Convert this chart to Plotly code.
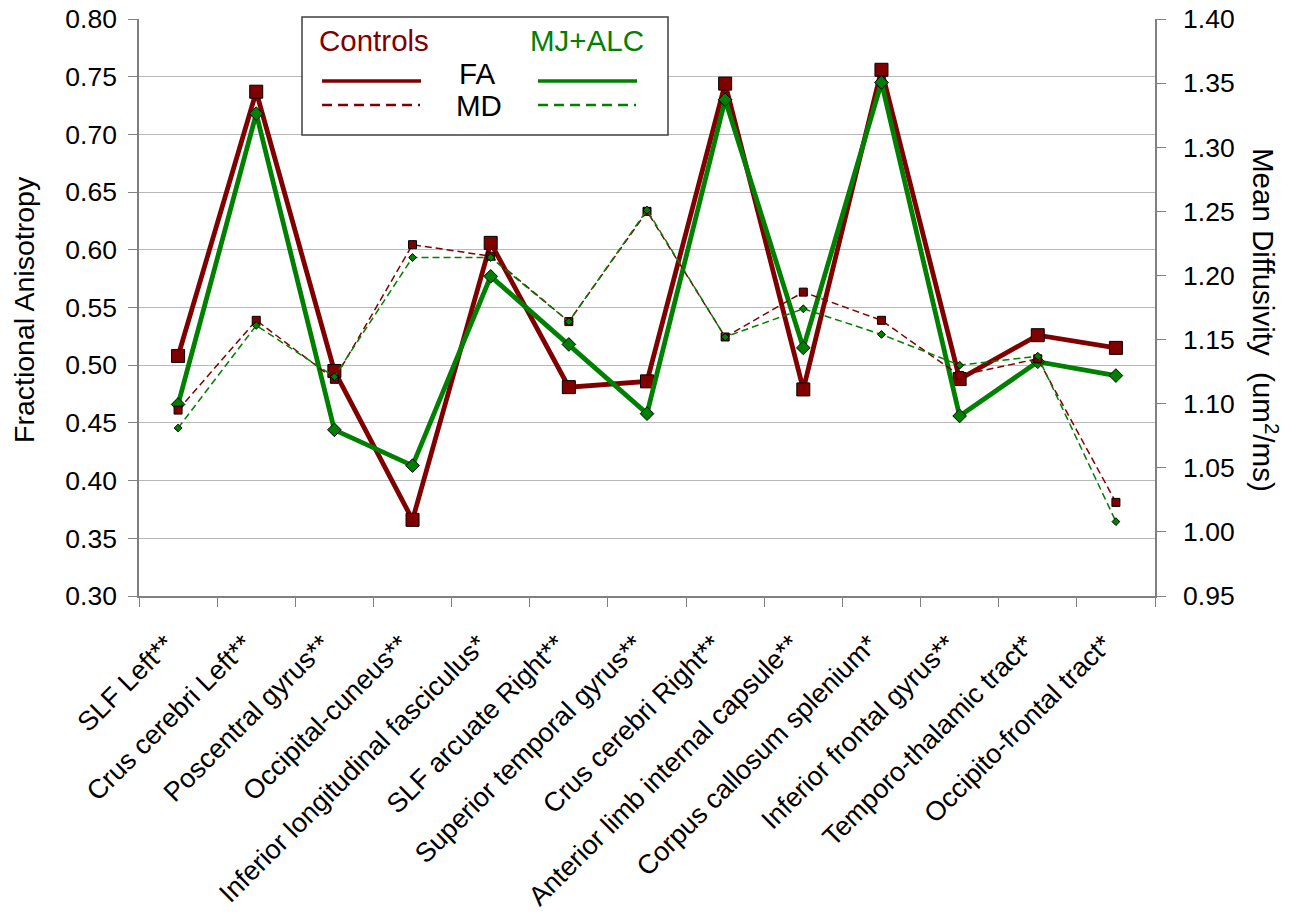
import plotly.graph_objects as go

categories = ["SLF Left**", "Crus cerebri Left**", "Poscentral gyrus**", "Occipital-cuneus**",
              "Inferior longitudinal fasciculus*", "SLF arcuate Right**", "Superior temporal gyrus**",
              "Crus cerebri Right**", "Anterior limb internal capsule**", "Corpus callosum splenium*",
              "Inferior frontal gyrus**", "Temporo-thalamic tract*", "Occipito-frontal tract*"]

controls_fa = [0.508, 0.737, 0.495, 0.366, 0.606, 0.481, 0.486, 0.744, 0.479, 0.756, 0.488, 0.526, 0.515]
mjalc_fa = [0.466, 0.718, 0.444, 0.413, 0.577, 0.518, 0.458, 0.730, 0.515, 0.745, 0.456, 0.503, 0.491]
controls_md = [1.095, 1.165, 1.119, 1.224, 1.215, 1.164, 1.250, 1.152, 1.187, 1.165, 1.122, 1.135, 1.023]
mjalc_md = [1.081, 1.161, 1.121, 1.214, 1.214, 1.164, 1.251, 1.152, 1.174, 1.154, 1.130, 1.137, 1.008]

fa_ticks = [0.30, 0.35, 0.40, 0.45, 0.50, 0.55, 0.60, 0.65, 0.70, 0.75, 0.80]
md_ticks = [0.95, 1.00, 1.05, 1.10, 1.15, 1.20, 1.25, 1.30, 1.35, 1.40]

RED = "#800000"
GREEN = "#008000"
FONT = "Liberation Sans, Arial, sans-serif"

OFF = 8  # page body margin
W, H = 1297 - OFF, 918 - OFF
# plot area in screen pixels
L, R, T, B = 139, 1155, 19, 596


def px(x):
    return (x - L) / (R - L)


def py(y):
    return (B - y) / (B - T)


fig = go.Figure()
fig.add_trace(go.Scatter(x=categories, y=controls_fa, mode="lines+markers", name="Controls FA",
                         line=dict(color=RED, width=4.8),
                         marker=dict(symbol="square", size=13, color=RED, line=dict(color="black", width=1))))
fig.add_trace(go.Scatter(x=categories, y=mjalc_fa, mode="lines+markers", name="MJ+ALC FA",
                         line=dict(color=GREEN, width=4.8),
                         marker=dict(symbol="diamond", size=10.5, color=GREEN, line=dict(color="black", width=1))))
fig.add_trace(go.Scatter(x=categories, y=controls_md, mode="lines+markers", name="Controls MD", yaxis="y2",
                         line=dict(color=RED, width=1.5, dash="7px,4px"),
                         marker=dict(symbol="square", size=8, color=RED, line=dict(color="black", width=1))))
fig.add_trace(go.Scatter(x=categories, y=mjalc_md, mode="lines+markers", name="MJ+ALC MD", yaxis="y2",
                         line=dict(color=GREEN, width=1.5, dash="7px,4px"),
                         marker=dict(symbol="diamond", size=6, color=GREEN, line=dict(color="black", width=1))))

axis_col = "#808080"
fig.update_layout(
    width=W, height=H,
    margin=dict(l=L - OFF, r=W - (R - OFF), t=T - OFF, b=H - (B - OFF), autoexpand=False),
    paper_bgcolor="white", plot_bgcolor="white",
    showlegend=False,
    font=dict(family=FONT, color="black"),
    xaxis=dict(type="category", range=[-0.5, len(categories) - 0.5], showgrid=False, zeroline=False,
               showline=True, linecolor=axis_col, linewidth=1.5,
               ticks="outside", tickson="boundaries", ticklen=9, tickcolor=axis_col, tickwidth=1,
               tickangle=-45, ticklabelstandoff=20, ticklabelshift=-12,
               tickfont=dict(size=27, family=FONT, color="black")),
    yaxis=dict(range=[0.30, 0.80], tickmode="array", tickvals=fa_ticks,
               ticktext=["%.2f" % v for v in fa_ticks], ticklabeloverflow="allow",
               showgrid=True, gridcolor="#b8b8b8", gridwidth=1, zeroline=False,
               showline=True, linecolor=axis_col, linewidth=1.5,
               ticks="outside", ticklen=9, tickcolor=axis_col, tickwidth=1,
               ticklabelstandoff=6,
               tickfont=dict(size=26.5, family=FONT, color="black")),
    yaxis2=dict(range=[0.95, 1.40], overlaying="y", side="right", tickmode="array", tickvals=md_ticks,
                ticktext=["%.2f" % v for v in md_ticks], ticklabeloverflow="allow",
                showgrid=False, zeroline=False,
                showline=True, linecolor=axis_col, linewidth=1.5,
                ticks="outside", ticklen=9, tickcolor=axis_col, tickwidth=1,
                ticklabelstandoff=12,
                tickfont=dict(size=26.5, family=FONT, color="black")),
)

# axis titles
fig.add_annotation(text="Fractional Anisotropy", xref="paper", yref="paper", x=px(24), y=py(310),
                   showarrow=False, textangle=-90, font=dict(size=28.5, family=FONT, color="black"),
                   xanchor="center", yanchor="middle")
fig.add_annotation(text="Mean Diffusivity&nbsp; (um<sup>2</sup>/ms)", xref="paper", yref="paper",
                   x=px(1266), y=py(320),
                   showarrow=False, textangle=90, font=dict(size=29.5, family=FONT, color="black"),
                   xanchor="center", yanchor="middle")

# custom legend box
fig.add_shape(type="rect", xref="paper", yref="paper", x0=px(302), x1=px(668), y0=py(135), y1=py(17),
              line=dict(color="#404040", width=1.5), fillcolor="white", layer="above")
fig.add_shape(type="line", xref="paper", yref="paper", x0=px(322), x1=px(421), y0=py(81), y1=py(81),
              line=dict(color=RED, width=3.5), layer="above")
fig.add_shape(type="line", xref="paper", yref="paper", x0=px(322), x1=px(420), y0=py(105), y1=py(105),
              line=dict(color=RED, width=2.5, dash="10px,6px"), layer="above")
fig.add_shape(type="line", xref="paper", yref="paper", x0=px(538), x1=px(637), y0=py(81), y1=py(81),
              line=dict(color=GREEN, width=3.5), layer="above")
fig.add_shape(type="line", xref="paper", yref="paper", x0=px(538), x1=px(636), y0=py(105), y1=py(105),
              line=dict(color=GREEN, width=2.5, dash="10px,6px"), layer="above")
fig.add_annotation(text="Controls", xref="paper", yref="paper", x=px(374), y=py(40), showarrow=False,
                   font=dict(size=29.5, family=FONT, color=RED), xanchor="center", yanchor="middle")
fig.add_annotation(text="MJ+ALC", xref="paper", yref="paper", x=px(587), y=py(40), showarrow=False,
                   font=dict(size=29.5, family=FONT, color=GREEN), xanchor="center", yanchor="middle")
fig.add_annotation(text="FA", xref="paper", yref="paper", x=px(477), y=py(74), showarrow=False,
                   font=dict(size=29.5, family=FONT, color="black"), xanchor="center", yanchor="middle")
fig.add_annotation(text="MD", xref="paper", yref="paper", x=px(479), y=py(106), showarrow=False,
                   font=dict(size=29.5, family=FONT, color="black"), xanchor="center", yanchor="middle")

fig.write_html("out.html")
